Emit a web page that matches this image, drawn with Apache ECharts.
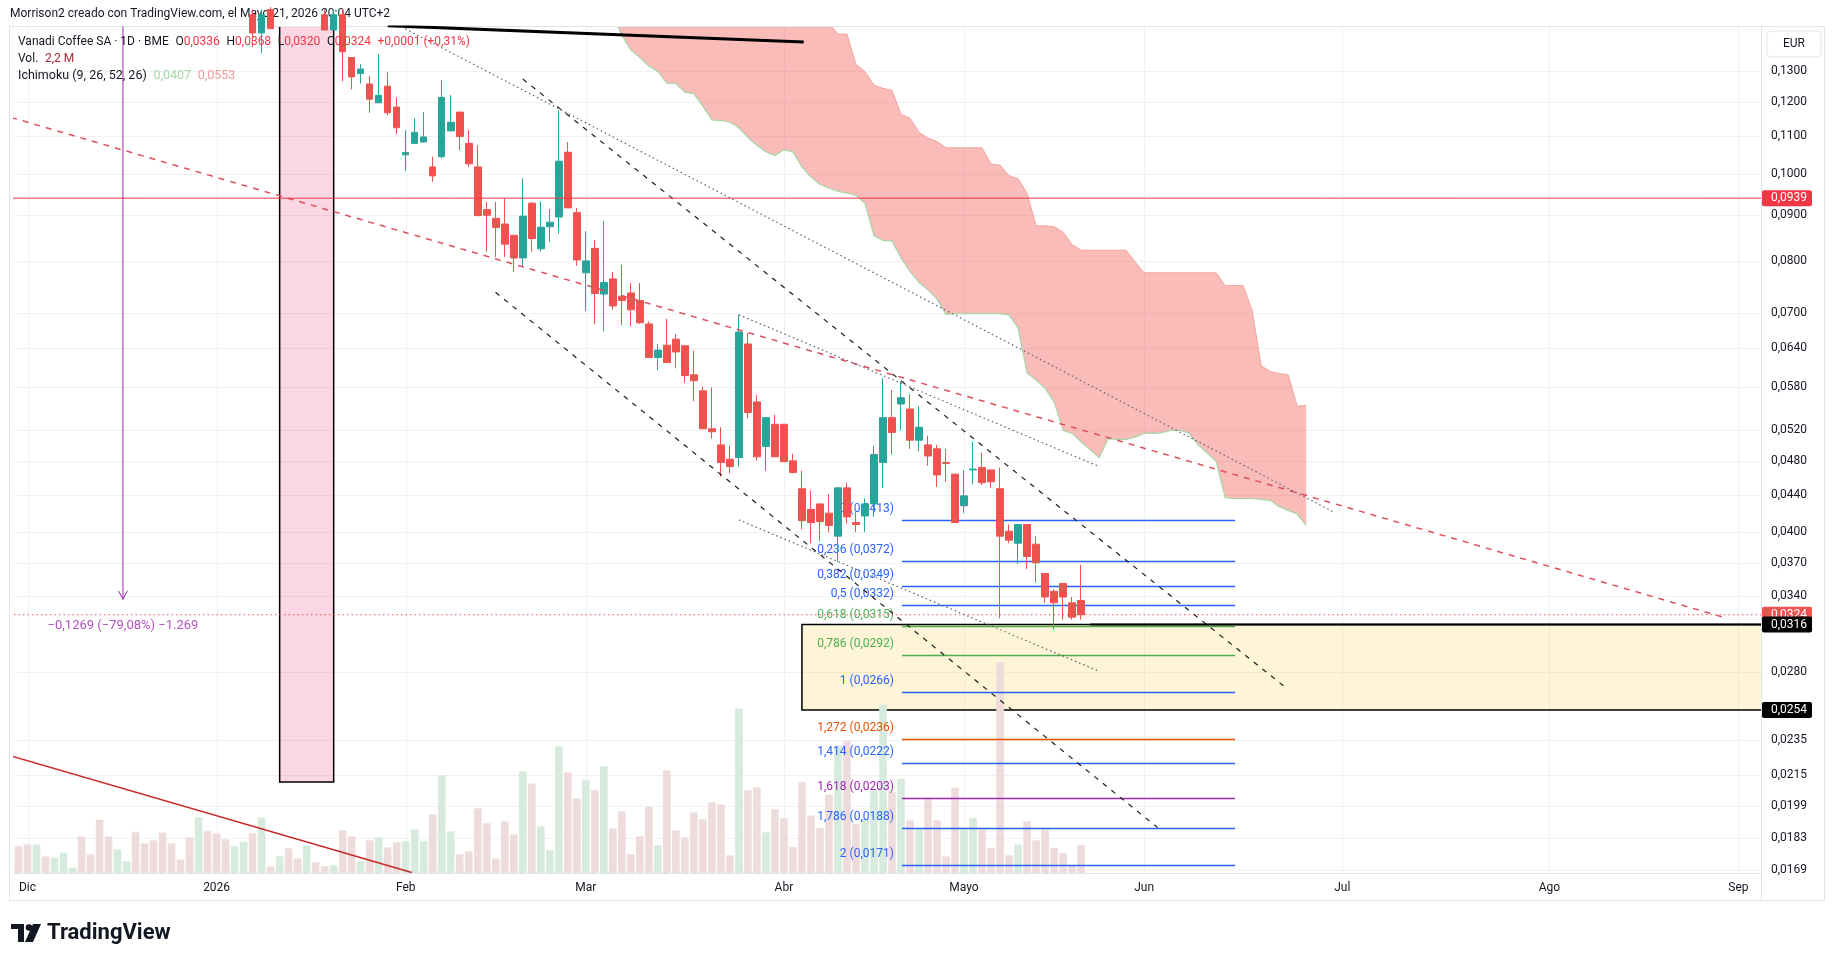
<!DOCTYPE html>
<html>
<head>
<meta charset="utf-8">
<script src="https://cdn.jsdelivr.net/npm/echarts@6/dist/echarts.min.js"></script>
<style>
html, body { margin: 0; padding: 0; background: #fff; }
#chart { width: 1835px; height: 961px; }
</style>
</head>
<body>
<div id="chart"></div>
<script>
// trading days of BME (no weekends, no exchange holidays), then plain weekdays into the future
var holidays = ['2025-12-25', '2025-12-26', '2026-01-01', '2026-04-03', '2026-04-06', '2026-05-01'];
var monthShort = ['Ene', 'Feb', 'Mar', 'Abr', 'Mayo', 'Jun', 'Jul', 'Ago', 'Sep', 'Oct', 'Nov', 'Dic'];
var dates = [];
var day = new Date(Date.UTC(2025, 10, 28));
while (dates.length < 194) {
    var s = day.toISOString().slice(0, 10);
    var wd = day.getUTCDay();
    if (wd !== 0 && wd !== 6 && holidays.indexOf(s) < 0) dates.push(s);
    day.setUTCDate(day.getUTCDate() + 1);
}
var base = dates.indexOf('2025-12-01');   // bar 0 = 1 Dec 2025, all bar numbers below count from it

var priceTicks = [0.13, 0.12, 0.11, 0.10, 0.09, 0.08, 0.07, 0.064, 0.058, 0.052, 0.048, 0.044,
    0.040, 0.037, 0.034, 0.028, 0.0235, 0.0215, 0.0199, 0.0183, 0.0169];

// candles from bar 25 (8 Jan) to bar 117 (21 May); null = above the visible range
var candleFirst = 25;
var candleOpen = [0.150, 0.1432, 0.152, null, null, null, null, null, 0.150, 0.1443, 0.150, 0.1345, 0.1291, 0.1257, 0.1198, 0.1250, 0.1185,
    0.1049, 0.1080, 0.1084, 0.1017, 0.1044, 0.1115, 0.1170, 0.1080, 0.1017, 0.0912, 0.0892, 0.0879, 0.0854, 0.0806, 0.0927, 0.0825,
    0.0873, 0.0895, 0.1056, 0.0905, 0.0776, 0.0826, 0.0735, 0.0764, 0.0731, 0.0737, 0.0723, 0.0681, 0.0625, 0.0645, 0.0655, 0.0644,
    0.0598, 0.0574, 0.0521, 0.0500, 0.0482, 0.0484, 0.0647, 0.0558, 0.0498, 0.0527, 0.0527, 0.0480, 0.0447, 0.0424, 0.0430, 0.0420,
    0.0396, 0.0448, 0.0410, 0.0417, 0.0430, 0.0478, 0.0536, 0.0555, 0.0548, 0.0506, 0.0500, 0.0495, 0.0478, 0.0464, 0.0428, 0.0469,
    0.0472, 0.0469, 0.0447, 0.0401, 0.0389, 0.0408, 0.0388, 0.0360, 0.0344, 0.0351, 0.0334, 0.0336];
var candleHigh = [0.152, 0.152, 0.153, null, null, null, null, null, 0.152, 0.152, 0.152, 0.1345, 0.1322, 0.1283, 0.1357, 0.1297, 0.1215,
    0.1117, 0.1151, 0.1170, 0.1044, 0.1270, 0.1222, 0.1170, 0.1117, 0.1075, 0.0930, 0.0930, 0.0938, 0.0854, 0.0988, 0.0930, 0.0931,
    0.0913, 0.1176, 0.1084, 0.0916, 0.0863, 0.0844, 0.0886, 0.0778, 0.0792, 0.0756, 0.0756, 0.0685, 0.0647, 0.0690, 0.0664, 0.0644,
    0.0636, 0.0580, 0.0579, 0.0523, 0.0499, 0.0697, 0.0665, 0.0568, 0.0536, 0.0540, 0.0527, 0.0489, 0.0468, 0.0445, 0.0430, 0.0441,
    0.0448, 0.0454, 0.0421, 0.0436, 0.0499, 0.0593, 0.0575, 0.0588, 0.0569, 0.0552, 0.0512, 0.0500, 0.0495, 0.0464, 0.0469, 0.0504,
    0.0490, 0.0469, 0.0472, 0.0408, 0.0408, 0.0408, 0.0396, 0.0360, 0.0346, 0.0351, 0.0339, 0.0368];
var candleLow = [0.1381, 0.1359, 0.1448, null, null, null, null, null, 0.1443, 0.1443, 0.1266, 0.1240, 0.1259, 0.1168, 0.1198, 0.1161, 0.1107,
    0.1007, 0.1080, 0.1082, 0.0979, 0.1039, 0.1115, 0.1062, 0.1017, 0.0898, 0.0819, 0.0808, 0.0808, 0.0778, 0.0790, 0.0819, 0.0819,
    0.0840, 0.0858, 0.0916, 0.0790, 0.0704, 0.0680, 0.0668, 0.0706, 0.0679, 0.0677, 0.0681, 0.0625, 0.0605, 0.0617, 0.0608, 0.0586,
    0.0559, 0.0521, 0.0508, 0.0461, 0.0465, 0.0473, 0.0535, 0.0480, 0.0468, 0.0485, 0.0479, 0.0465, 0.0403, 0.0389, 0.0391, 0.0400,
    0.0371, 0.0409, 0.0400, 0.0400, 0.0416, 0.0448, 0.0488, 0.0519, 0.0495, 0.0492, 0.0474, 0.0449, 0.0455, 0.0410, 0.0420, 0.0452,
    0.0451, 0.0448, 0.0321, 0.0389, 0.0369, 0.0364, 0.0352, 0.0334, 0.0312, 0.0320, 0.0320, 0.0320];
var candleClose = [0.1432, 0.150, 0.1448, null, null, null, null, null, 0.1443, 0.150, 0.1365, 0.1280, 0.1306, 0.1209, 0.1221, 0.1168, 0.1124,
    0.1055, 0.1111, 0.1098, 0.0994, 0.1215, 0.1140, 0.1099, 0.1025, 0.0898, 0.0899, 0.0871, 0.0835, 0.0806, 0.0897, 0.0847, 0.0872,
    0.0883, 0.1032, 0.0916, 0.0802, 0.0800, 0.0736, 0.0757, 0.0713, 0.0723, 0.0706, 0.0683, 0.0625, 0.0637, 0.0617, 0.0634, 0.0597,
    0.0589, 0.0521, 0.0517, 0.0478, 0.0473, 0.0667, 0.0543, 0.0485, 0.0536, 0.0485, 0.0479, 0.0466, 0.0412, 0.0410, 0.0411, 0.0407,
    0.0448, 0.0416, 0.0408, 0.0430, 0.0488, 0.0536, 0.0516, 0.0564, 0.0506, 0.0523, 0.0486, 0.0463, 0.0477, 0.0410, 0.0439, 0.0470,
    0.0454, 0.0455, 0.0396, 0.0392, 0.0408, 0.0376, 0.0370, 0.0339, 0.0334, 0.0339, 0.0322, 0.0324];

// volume in millions from bar -1 (28 Nov) to bar 117, and whether the day closed up
var volFirst = -1;
var volume = [2.10, 2.25, 2.25, 1.31, 1.21, 1.60, 0.42, 2.88, 1.47, 4.19, 2.88, 1.86, 0.92, 3.25, 2.33, 2.57, 3.17, 2.33, 1.05, 2.80,
    4.38, 3.28, 3.12, 2.65, 2.10, 2.46, 3.12, 4.38, 0.52, 1.31, 1.94, 1.15, 2.17, 0.84, 0.52, 0.60, 3.35, 2.88, 0.92, 2.57, 2.80, 2.02,
    2.41, 2.49, 3.43, 2.49, 4.61, 7.68, 3.28, 1.47, 1.71, 5.09, 3.91, 1.15, 4.06, 3.04, 7.99, 7.05, 3.67, 1.78, 9.96, 7.92, 5.87, 7.29,
    6.50, 8.39, 3.51, 4.85, 1.47, 2.88, 5.24, 2.17, 8.07, 3.35, 2.80, 4.77, 4.22, 5.56, 5.40, 1.39, 12.94, 6.50, 6.73, 3.20, 5.01, 4.32,
    2.04, 7.15, 4.53, 3.54, 6.18, 10.04, 10.43, 3.83, 4.25, 6.50, 13.26, 6.37, 7.41, 4.14, 3.43, 5.92, 4.14, 1.31, 6.71, 3.43, 4.32, 3.43,
    1.97, 16.6, 1.39, 2.25, 4.06, 2.57, 3.43, 1.97, 1.57, 0.55, 2.2];
var volUp = [0, 0, 1, 0, 1, 1, 1, 0, 0, 0, 0, 1, 1, 0, 0, 0, 0, 0, 0, 0, 1, 0, 0, 0, 1, 1, 0, 1, 0, 1, 0, 0, 1, 0, 0, 1, 0, 0, 1, 0, 1, 0,
    0, 1, 1, 1, 0, 1, 1, 0, 0, 0, 0, 0, 0, 0, 1, 0, 1, 1, 1, 0, 0, 1, 0, 1, 0, 0, 0, 0, 0, 1, 0, 0, 0, 0, 0, 0, 0, 0, 1, 0, 0, 1, 0, 0,
    0, 0, 0, 0, 0, 1, 0, 0, 1, 1, 1, 0, 1, 0, 1, 0, 0, 0, 0, 1, 1, 0, 0, 0, 0, 1, 0, 0, 0, 0, 0, 0, 0];

// Ichimoku cloud (shifted 26 bars), bars 65 .. 142
var cloudFirst = 65;
var spanA = [0.150, 0.1424, 0.1371, 0.1346, 0.1316, 0.1298, 0.1260, 0.1259, 0.1231, 0.1226, 0.1188, 0.1147, 0.1145, 0.1140, 0.1124,
    0.1097, 0.1075, 0.1057, 0.1047, 0.1063, 0.1057, 0.1017, 0.0991, 0.0973, 0.0963, 0.0956, 0.0951, 0.0946, 0.0927, 0.0853, 0.0843,
    0.0842, 0.0806, 0.0779, 0.0757, 0.0743, 0.0726, 0.0698, 0.0699, 0.0699, 0.0699, 0.0699, 0.0699, 0.0699, 0.0697, 0.0674, 0.0601,
    0.0590, 0.0578, 0.0558, 0.0519, 0.0515, 0.0504, 0.0494, 0.0484, 0.0508, 0.0507, 0.0507, 0.0510, 0.0515, 0.0515, 0.0516, 0.0519,
    0.0519, 0.0515, 0.0500, 0.0490, 0.0479, 0.0437, 0.0436, 0.0436, 0.0436, 0.0435, 0.0434, 0.0427, 0.0423, 0.0419, 0.0407];
var spanB = [0.160, 0.160, 0.160, 0.160, 0.160, 0.160, 0.160, 0.160, 0.160, 0.160, 0.160, 0.160, 0.160, 0.160, 0.160, 0.160, 0.160,
    0.160, 0.160, 0.160, 0.160, 0.160, 0.160, 0.160, 0.147, 0.1428, 0.1428, 0.1321, 0.1298, 0.1253, 0.1243, 0.1237, 0.1163, 0.1152,
    0.1111, 0.1095, 0.1085, 0.1068, 0.1068, 0.1068, 0.1068, 0.1068, 0.1024, 0.1022, 0.0994, 0.0987, 0.0951, 0.0875, 0.0875, 0.0873,
    0.0861, 0.0834, 0.0822, 0.0822, 0.0822, 0.0822, 0.0822, 0.0822, 0.0798, 0.0776, 0.0776, 0.0776, 0.0776, 0.0776, 0.0776, 0.0776,
    0.0776, 0.0776, 0.0751, 0.0751, 0.0751, 0.0704, 0.0612, 0.0603, 0.0600, 0.0598, 0.0552, 0.0553];

// drawings: [bar, price]
var thickLine = [[40, 0.1459], [86.2, 0.1399]];
var redTrend = [[-1.81, 0.1154], [188.7, 0.03211]];
var channelUpper = [[55.0, 0.1273], [139.5, 0.02701]];
var channelLower = [[51.97, 0.07383], [125.5, 0.01881]];
var dottedTop = [[41.5, 0.1455], [144.9, 0.04218]];
var dottedMid = [[79, 0.0697], [118.9, 0.04735]];
var dottedLow = [[79, 0.04128], [118.9, 0.02807]];
var redSolid = [[-2, 0.02261], [42.67, 0.01677]];
var measureBar = 10.6, measureFrom = 0.1605, measureTo = 0.0337;
var dateRange = [28, 34, 0.2, 0.02113];          // bar from, bar to, top, bottom
var zoneBox = [86, 260, 0.0316, 0.0254];
var resistance = 0.0939, lastPrice = 0.0324, supportRay = [118, 0.0316];

var fibFrom = 97.1, fibTo = 134.1;
var fibLevels = ['0', '0,236', '0,382', '0,5', '0,618', '0,786', '1', '1,272', '1,414', '1,618', '1,786', '2'];
var fibPrices = [0.0413, 0.0372, 0.0349, 0.0332, 0.0315, 0.0292, 0.0266, 0.0236, 0.0222, 0.0203, 0.0188, 0.0171];
var fibColors = ['#2962ff', '#2962ff', '#2962ff', '#2962ff', '#4caf50', '#4caf50', '#2962ff', '#e65100', '#2962ff', '#9c27b0', '#2962ff', '#2962ff'];

function bx(b) { return base + b; }
function fmt(v) { return v.toFixed(4).replace('.', ','); }

var monthIdx = [], monthLabel = {};
for (var c = 1; c < dates.length; c++) {
    var m = +dates[c].slice(5, 7) - 1, pm = +dates[c - 1].slice(5, 7) - 1;
    if (m !== pm) {
        monthIdx.push(c);
        monthLabel[c] = m === 0 ? dates[c].slice(0, 4) : monthShort[m];
    }
}

var candleData = dates.map(function () { return '-'; });
candleOpen.forEach(function (o, k) {
    if (o == null) return;
    candleData[bx(candleFirst + k)] = [o, candleClose[k], candleLow[k], candleHigh[k]];
});
var volData = dates.map(function () { return '-'; });
volume.forEach(function (v, k) {
    volData[bx(volFirst + k)] = { value: v, itemStyle: { color: volUp[k] ? '#d6ebdd' : '#eedcdd' } };
});

function pts(arr) { return arr.map(function (p) { return [bx(p[0]), p[1]]; }); }
function trend(data, color, width, type) {
    return {
        type: 'line', xAxisIndex: 1, yAxisIndex: 0, data: pts(data), symbol: 'none', silent: true,
        z: 5, clip: true, lineStyle: { color: color, width: width, type: type }
    };
}
function rectRender(fill, stroke, lw) {
    return function (params, api) {
        var a = api.coord([api.value(0), api.value(1)]);
        var b = api.coord([api.value(2), api.value(3)]);
        return {
            type: 'rect', shape: { x: a[0], y: a[1], width: b[0] - a[0], height: b[1] - a[1] },
            style: { fill: fill, stroke: stroke, lineWidth: lw }
        };
    };
}

var last = candleOpen.length - 1;
var chart = echarts.init(document.getElementById('chart'));
var font = 'Roboto, sans-serif';

var option = {
    animation: false,
    backgroundColor: '#ffffff',
    textStyle: { fontFamily: font },
    grid: [
        { left: 14, right: 74, top: 27, bottom: 88, outerBoundsMode: 'none' },
        { left: 14, right: 74, top: 573, bottom: 88, outerBoundsMode: 'none' }
    ],
    xAxis: [
        { type: 'category', gridIndex: 0, data: dates, boundaryGap: true, show: false, position: 'top' },
        {
            type: 'value', gridIndex: 0, min: -0.5, max: dates.length - 0.5, position: 'bottom',
            axisLine: { show: true, onZero: false, lineStyle: { color: '#e0e3eb' } },
            axisTick: { show: false }, splitLine: { show: false },
            axisLabel: {
                customValues: monthIdx, color: '#131722', fontSize: 12, margin: 9, fontFamily: font,
                formatter: function (v) { return monthLabel[Math.round(v)] || ''; }
            }
        },
        { type: 'category', gridIndex: 1, data: dates, boundaryGap: true, show: false }
    ],
    yAxis: [
        {
            type: 'log', gridIndex: 0, position: 'right', min: 0.01675, max: 0.1454,
            axisLine: { show: false }, axisTick: { show: false }, splitLine: { show: false },
            axisLabel: { customValues: priceTicks, formatter: fmt, color: '#131722', fontSize: 12, margin: 10, fontFamily: font }
        },
        { type: 'value', gridIndex: 1, min: 0, max: 23.6, show: false }
    ],
    graphic: [
        { type: 'rect', shape: { x: 9.5, y: 26.5, width: 1815, height: 874 }, style: { fill: null, stroke: '#e0e3eb', lineWidth: 1 }, z: 0 },
        { type: 'line', shape: { x1: 1761.5, y1: 26.5, x2: 1761.5, y2: 900 }, style: { stroke: '#e0e3eb', lineWidth: 1 }, z: 10 },
        { type: 'rect', shape: { x: 1767, y: 31, width: 54, height: 26, r: 4 }, style: { fill: '#fff', stroke: '#e0e3eb', lineWidth: 1 }, z: 10 },
        { type: 'text', x: 1794, y: 44, style: { text: 'EUR', fill: '#131722', font: '12px ' + font, align: 'center', verticalAlign: 'middle' }, z: 11 },
        { type: 'text', x: 10, y: 14, style: { text: 'Morrison2 creado con TradingView.com, el Mayo 21, 2026 20:04 UTC+2', fill: '#131722', font: '12px ' + font, verticalAlign: 'middle' } },
        {
            type: 'text', x: 18, y: 42, z: 20,
            style: {
                text: '{n|Vanadi Coffee SA · 1D · BME}  {k|O}{v|' + fmt(candleOpen[last]) + '}  {k|H}{v|' + fmt(candleHigh[last]) +
                    '}  {k|L}{v|' + fmt(candleLow[last]) + '}  {k|C}{v|' + fmt(candleClose[last]) + '}  {v|+0,0001 (+0,31%)}',
                verticalAlign: 'middle',
                rich: {
                    n: { fill: '#131722', fontSize: 12, fontFamily: font },
                    k: { fill: '#131722', fontSize: 12, fontFamily: font },
                    v: { fill: '#f23645', fontSize: 12, fontFamily: font }
                }
            }
        },
        {
            type: 'text', x: 18, y: 59, z: 20,
            style: {
                text: '{n|Vol.}  {v|' + String(volume[volume.length - 1]).replace('.', ',') + ' M}', verticalAlign: 'middle',
                rich: { n: { fill: '#131722', fontSize: 12, fontFamily: font }, v: { fill: '#a8282e', fontSize: 12, fontFamily: font } }
            }
        },
        {
            type: 'text', x: 18, y: 76, z: 20,
            style: {
                text: '{n|Ichimoku (9, 26, 52, 26)}  {a|' + fmt(spanA[spanA.length - 1]) + '}  {b|' + fmt(spanB[spanB.length - 1]) + '}',
                verticalAlign: 'middle',
                rich: {
                    n: { fill: '#131722', fontSize: 12.5, fontFamily: font },
                    a: { fill: '#a5d6a7', fontSize: 12.5, fontFamily: font },
                    b: { fill: '#ef9a9a', fontSize: 12.5, fontFamily: font }
                }
            }
        },
        // TradingView footer logo
        { type: 'rect', shape: { x: 11, y: 924, width: 13, height: 5 }, style: { fill: '#131722' } },
        { type: 'rect', shape: { x: 18, y: 924, width: 6, height: 18 }, style: { fill: '#131722' } },
        { type: 'circle', shape: { cx: 29, cy: 927.5, r: 3.3 }, style: { fill: '#131722' } },
        { type: 'polygon', shape: { points: [[33, 924], [41, 924], [33, 942], [25, 942]] }, style: { fill: '#131722' } },
        { type: 'text', x: 47, y: 933, style: { text: 'TradingView', fill: '#131722', font: 'bold 22px ' + font, verticalAlign: 'middle' } }
    ],
    series: [
        {   // grid lines at the price ticks and at the month labels
            type: 'custom', xAxisIndex: 1, yAxisIndex: 0, silent: true, z: 0,
            data: priceTicks.map(function (p) { return [0, p, 0]; })
                .concat(monthIdx.map(function (c) { return [c, 0.05, 1]; })),
            renderItem: function (params, api) {
                var cs = params.coordSys;
                if (api.value(2) === 0) {
                    var y = Math.round(api.coord([0, api.value(1)])[1]) + 0.5;
                    return { type: 'line', shape: { x1: cs.x, y1: y, x2: cs.x + cs.width, y2: y }, style: { stroke: '#f0f1f4', lineWidth: 1 } };
                }
                var x = Math.round(api.coord([api.value(0), 0.05])[0]) + 0.5;
                return { type: 'line', shape: { x1: x, y1: cs.y, x2: x, y2: cs.y + cs.height }, style: { stroke: '#f0f1f4', lineWidth: 1 } };
            }
        },
        {
            type: 'bar', xAxisIndex: 2, yAxisIndex: 1, barWidth: 7.6, z: 1, silent: true, data: volData
        },
        {   // Ichimoku cloud
            type: 'custom', xAxisIndex: 1, yAxisIndex: 0, silent: true, clip: true, z: 1,
            data: [[bx(100), 0.05]],
            renderItem: function (params, api) {
                var top = [], bot = [];
                for (var k = 0; k < spanA.length; k++) {
                    top.push(api.coord([bx(cloudFirst + k), spanB[k]]));
                    bot.push(api.coord([bx(cloudFirst + k), spanA[k]]));
                }
                return {
                    type: 'group', children: [
                        { type: 'polygon', shape: { points: top.concat(bot.slice().reverse()) }, style: { fill: 'rgba(242,70,58,0.36)' } },
                        { type: 'polyline', shape: { points: bot }, style: { stroke: '#a5d6a7', lineWidth: 1.2, fill: null } },
                        { type: 'polyline', shape: { points: top }, style: { stroke: '#f3a5a0', lineWidth: 1, fill: null } }
                    ]
                };
            }
        },
        {
            type: 'custom', xAxisIndex: 1, yAxisIndex: 0, silent: true, clip: true, z: 1,
            data: [[bx(dateRange[0]), dateRange[2], bx(dateRange[1]), dateRange[3]]],
            renderItem: rectRender('rgba(233,30,99,0.18)', '#000', 1.5)
        },
        {
            type: 'custom', xAxisIndex: 1, yAxisIndex: 0, silent: true, clip: true, z: 1,
            data: [[bx(zoneBox[0]), zoneBox[2], bx(zoneBox[1]), zoneBox[3]]],
            renderItem: rectRender('rgba(249,200,60,0.2)', '#000', 1.5)
        },
        {   // fibonacci extension
            type: 'custom', xAxisIndex: 1, yAxisIndex: 0, silent: true, clip: true, z: 2,
            data: fibPrices.map(function (p, k) { return [bx(fibFrom), p, k]; }),
            renderItem: function (params, api) {
                var k = api.value(2);
                var a = api.coord([bx(fibFrom), api.value(1)]);
                var b = api.coord([bx(fibTo), api.value(1)]);
                var y = Math.round(a[1]) + 0.5;
                return {
                    type: 'group', children: [
                        { type: 'line', shape: { x1: a[0], y1: y, x2: b[0], y2: y }, style: { stroke: fibColors[k], lineWidth: 1.5 } },
                        {
                            type: 'text', x: a[0] - 8, y: y - 12,
                            style: { text: fibLevels[k] + ' (' + fmt(fibPrices[k]) + ')', fill: fibColors[k], font: '12px ' + font, align: 'right', verticalAlign: 'middle' }
                        }
                    ]
                };
            }
        },
        {
            type: 'candlestick', xAxisIndex: 0, yAxisIndex: 0, barWidth: 7, z: 3, silent: true, data: candleData,
            itemStyle: { color: '#26a69a', color0: '#ef5350', borderColor: '#26a69a', borderColor0: '#ef5350', borderWidth: 1 }
        },
        trend(thickLine, '#000000', 3, 'solid'),
        trend(redTrend, '#de4f5d', 1.5, [6, 6]),
        trend(channelUpper, '#1e1e1e', 1.2, [5, 6]),
        trend(channelLower, '#1e1e1e', 1.2, [5, 6]),
        trend(dottedTop, '#5d606b', 1.2, [1.5, 3]),
        trend(dottedMid, '#5d606b', 1.2, [1.5, 3]),
        trend(dottedLow, '#5d606b', 1.2, [1.5, 3]),
        trend(redSolid, '#c62828', 1.5, 'solid'),
        trend([[-5, resistance], [260, resistance]], '#f23645', 1, 'solid'),
        trend([[-5, lastPrice], [260, lastPrice]], '#ef5350', 1, [1.5, 3]),
        trend([supportRay, [260, supportRay[1]]], '#000000', 2, 'solid'),
        trend([[measureBar, measureFrom], [measureBar, measureTo]], '#9c27b0', 1, 'solid'),
        trend([[measureBar - 0.5, measureTo * 1.022], [measureBar, measureTo], [measureBar + 0.5, measureTo * 1.022]], '#9c27b0', 1, 'solid'),
        {
            type: 'scatter', xAxisIndex: 1, yAxisIndex: 0, silent: true, z: 6,
            data: [[bx(measureBar), measureTo]], symbolSize: 1, itemStyle: { color: 'rgba(0,0,0,0)' },
            label: {
                show: true, position: 'bottom', distance: 19, color: '#9c27b0', fontSize: 13, fontFamily: font,
                formatter: '\u22120,1269 (\u221279,08%) \u22121.269'
            }
        },
        {   // price boxes on the axis
            type: 'custom', xAxisIndex: 1, yAxisIndex: 0, silent: true, z: 12,
            data: [[0, resistance, 0], [0, lastPrice, 1], [0, 0.0316, 2], [0, 0.0254, 2]],
            renderItem: function (params, api) {
                var cs = params.coordSys;
                var colors = ['#f23645', '#ef5350', '#000000'];
                var y = api.coord([0, api.value(1)])[1];
                var x0 = cs.x + cs.width + 1;
                return {
                    type: 'group', children: [
                        { type: 'rect', shape: { x: x0, y: y - 8, width: 50, height: 16, r: 2 }, style: { fill: colors[api.value(2)] } },
                        { type: 'text', x: x0 + 9, y: y, style: { text: fmt(api.value(1)), fill: '#fff', font: '12px ' + font, verticalAlign: 'middle' } }
                    ]
                };
            }
        }
    ]
};
chart.setOption(option);
</script>
</body>
</html>
